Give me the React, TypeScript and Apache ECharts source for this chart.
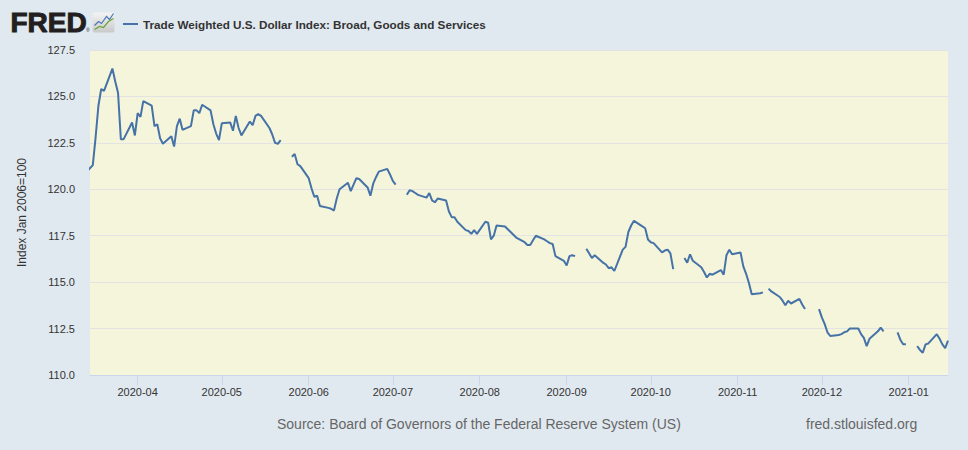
import React, { useEffect, useRef } from "react";
import * as echarts from "echarts";

type Obs = [number, number | null];

const SERIES_NAME = "Trade Weighted U.S. Dollar Index: Broad, Goods and Services";
const Y_NAME = "Index Jan 2006=100";
const SOURCE = "Source: Board of Governors of the Federal Reserve System (US)";
const SITE = "fred.stlouisfed.org";

const MONTH_TICKS = ["2020-04", "2020-05", "2020-06", "2020-07", "2020-08", "2020-09", "2020-10", "2020-11", "2020-12", "2021-01"];
const X_RANGE = ["2020-03-15", "2021-01-15"];

const MAR_2020: Obs[] = [[13, 120.8], [16, 121.3], [17, 122.8], [18, 124.5], [19, 125.4], [20, 125.3], [23, 126.5], [24, 125.8], [25, 125.2], [26, 122.7], [27, 122.7], [30, 123.6], [31, 122.9]];
const APR_2020: Obs[] = [[1, 124.1], [2, 123.9], [3, 124.75], [6, 124.5], [7, 123.4], [8, 123.5], [9, 122.75], [10, 122.45], [13, 122.85], [14, 122.3], [15, 123.4], [16, 123.8], [17, 123.2], [20, 123.4], [21, 124.25], [22, 124.25], [23, 124.1], [24, 124.55], [27, 124.25], [28, 123.5], [29, 123.0], [30, 122.65]];
const MAY_2020: Obs[] = [[1, 123.55], [4, 123.6], [5, 123.15], [6, 123.95], [7, 123.3], [8, 122.9], [11, 123.65], [12, 123.45], [13, 123.95], [14, 124.05], [15, 123.95], [18, 123.3], [19, 122.95], [20, 122.5], [21, 122.45], [22, 122.65], [25, null], [26, 121.75], [27, 121.9], [28, 121.35], [29, 121.25]];
const JUN_2020: Obs[] = [[1, 120.6], [2, 120.05], [3, 119.6], [4, 119.65], [5, 119.1], [8, 119.0], [9, 118.95], [10, 118.85], [11, 119.5], [12, 120.0], [15, 120.35], [16, 119.9], [17, 120.25], [18, 120.6], [19, 120.55], [22, 120.1], [23, 119.65], [24, 120.3], [25, 120.65], [26, 120.95], [29, 121.1], [30, 120.8]];
const JUL_2020: Obs[] = [[1, 120.45], [2, 120.25], [3, null], [6, 119.7], [7, 119.95], [8, 119.9], [9, 119.8], [10, 119.7], [13, 119.55], [14, 119.8], [15, 119.4], [16, 119.3], [17, 119.5], [20, 119.4], [21, 118.8], [22, 118.5], [23, 118.5], [24, 118.25], [27, 117.8], [28, 117.75], [29, 117.6], [30, 117.8], [31, 117.6]];
const AUG_2020: Obs[] = [[3, 118.25], [4, 118.2], [5, 117.3], [6, 117.5], [7, 118.05], [10, 118.0], [11, 117.85], [12, 117.7], [13, 117.55], [14, 117.4], [17, 117.15], [18, 117.0], [19, 117.0], [20, 117.25], [21, 117.5], [24, 117.3], [25, 117.2], [26, 117.1], [27, 117.05], [28, 116.4], [31, 116.15]];
const SEP_2020: Obs[] = [[1, 115.9], [2, 116.4], [3, 116.45], [4, 116.4], [7, null], [8, 116.8], [9, 116.55], [10, 116.3], [11, 116.45], [14, 116.05], [15, 115.95], [16, 115.75], [17, 115.8], [18, 115.6], [21, 116.75], [22, 116.9], [23, 117.7], [24, 118.05], [25, 118.3], [28, 118.0], [29, 117.9], [30, 117.3]];
const OCT_2020: Obs[] = [[1, 117.15], [2, 117.1], [5, 116.6], [6, 116.7], [7, 116.75], [8, 116.55], [9, 115.7], [12, null], [13, 116.3], [14, 116.05], [15, 116.5], [16, 116.15], [19, 115.8], [20, 115.55], [21, 115.25], [22, 115.45], [23, 115.4], [26, 115.65], [27, 115.4], [28, 116.45], [29, 116.75], [30, 116.5]];
const NOV_2020: Obs[] = [[2, 116.6], [3, 115.85], [4, 115.45], [5, 114.95], [6, 114.35], [9, 114.4], [10, 114.45], [11, null], [12, 114.65], [13, 114.5], [16, 114.2], [17, 114.0], [18, 113.75], [19, 114.0], [20, 113.85], [23, 114.1], [24, 113.8], [25, 113.55], [26, null], [27, null], [30, 113.55]];
const DEC_2020: Obs[] = [[1, 113.1], [2, 112.75], [3, 112.3], [4, 112.1], [7, 112.15], [8, 112.2], [9, 112.3], [10, 112.35], [11, 112.5], [14, 112.5], [15, 112.2], [16, 112.0], [17, 111.55], [18, 111.95], [21, 112.35], [22, 112.55], [23, 112.35], [24, null], [25, null], [28, 112.3], [29, 111.9], [30, 111.65], [31, 111.65]];
const JAN_2021: Obs[] = [[1, null], [4, 111.55], [5, 111.35], [6, 111.2], [7, 111.65], [8, 111.7], [11, 112.2], [12, 111.95], [13, 111.65], [14, 111.45], [15, 111.85]];

const MONTHS: [string, Obs[]][] = [
  ["2020-03", MAR_2020], ["2020-04", APR_2020], ["2020-05", MAY_2020], ["2020-06", JUN_2020],
  ["2020-07", JUL_2020], ["2020-08", AUG_2020], ["2020-09", SEP_2020], ["2020-10", OCT_2020],
  ["2020-11", NOV_2020], ["2020-12", DEC_2020], ["2021-01", JAN_2021],
];

const FONT = "'Liberation Sans', Arial, Helvetica, sans-serif";

function ts(s: string) {
  const [y, m, d] = s.split("-").map(Number);
  return Date.UTC(y, m - 1, d || 1);
}

function fmtMonth(v: number) {
  const d = new Date(v);
  return `${d.getUTCFullYear()}-${String(d.getUTCMonth() + 1).padStart(2, "0")}`;
}

export default function App() {
  const ref = useRef<HTMLDivElement>(null);
  useEffect(() => {
    if (!ref.current) return;
    const chart = echarts.init(ref.current, undefined, { renderer: "svg" });
    const data: any[] = [];
    MONTHS.forEach(([ym, obs]) => {
      obs.forEach(([d, v]) => {
        data.push([ts(`${ym}-${d}`), v === null ? "-" : v]);
      });
    });
    const tickVals = MONTH_TICKS.map((m) => ts(m));
    chart.setOption({
      animation: false,
      backgroundColor: "#e1e9f0",
      textStyle: { fontFamily: FONT },
      legend: {
        left: 118,
        top: 13,
        icon: "rect",
        itemWidth: 15,
        itemHeight: 2,
        textStyle: { fontFamily: FONT, fontSize: 11.7, fontWeight: "bold", color: "#333333" },
        data: [SERIES_NAME],
      },
      grid: { left: 90, right: 20, top: 50, bottom: 75, show: true, backgroundColor: "#f5f5dc", borderWidth: 0 },
      xAxis: {
        type: "value",
        min: ts(X_RANGE[0]),
        max: ts(X_RANGE[1]),
        axisLine: { show: true, lineStyle: { color: "#ccd6eb", width: 1 } },
        axisTick: { show: true, length: 10, lineStyle: { color: "#ccd6eb" }, customValues: tickVals },
        splitLine: { show: false },
        axisLabel: {
          customValues: tickVals,
          margin: 11,
          fontSize: 11,
          color: "#333333",
          fontFamily: FONT,
          formatter: (val: number) => fmtMonth(val),
        },
      },
      yAxis: {
        type: "value",
        min: 110,
        max: 127.5,
        interval: 2.5,
        name: Y_NAME,
        nameLocation: "middle",
        nameRotate: 90,
        nameGap: 62,
        nameTextStyle: { fontSize: 12, color: "#333333", fontFamily: FONT },
        axisLine: { show: false },
        axisTick: { show: false },
        splitLine: { show: true, lineStyle: { color: "#e3e3e3", width: 1 } },
        axisLabel: {
          margin: 15,
          fontSize: 11,
          color: "#333333",
          fontFamily: FONT,
          formatter: (v: number) => v.toFixed(1),
        },
      },
      series: [
        {
          name: SERIES_NAME,
          type: "line",
          data,
          showSymbol: false,
          connectNulls: false,
          clip: true,
          color: "#4572a7",
          lineStyle: { color: "#4572a7", width: 2 },
        },
      ],
      graphic: [
        {
          type: "text",
          left: 10,
          top: 8,
          style: {
            text: "FRED",
            fontFamily: FONT,
            fontWeight: 900,
            fontSize: 28,
            fill: "#231f20",
            stroke: "#231f20",
            lineWidth: 1,
          },
        },
        {
          type: "text",
          left: 86,
          top: 27,
          style: { text: "®", fontFamily: FONT, fontSize: 5, fill: "#231f20" },
        },
        {
          type: "group",
          left: 92,
          top: 11,
          children: [
            {
              type: "rect",
              shape: { x: 0, y: 0, width: 22, height: 20, r: 2 },
              style: {
                fill: new echarts.graphic.LinearGradient(0, 0, 0, 1, [
                  { offset: 0, color: "#f4f4f4" },
                  { offset: 1, color: "#c9c9c9" },
                ]),
              },
            },
            {
              type: "polyline",
              shape: { points: [[2, 13], [6, 9], [9, 11], [14, 4], [17, 7], [21, 1]] },
              style: { stroke: "#4a79b5", lineWidth: 1.2, fill: "none" },
            },
            {
              type: "polyline",
              shape: { points: [[2, 17], [7, 14], [11, 15], [16, 9], [21, 6]] },
              style: { stroke: "#6aa33a", lineWidth: 1.2, fill: "none" },
            },
          ],
        },
        {
          type: "text",
          left: 277,
          top: 417,
          style: { text: SOURCE, fontFamily: FONT, fontSize: 14, fill: "#666666" },
        },
        {
          type: "text",
          left: 806,
          top: 417,
          style: { text: SITE, fontFamily: FONT, fontSize: 14, fill: "#666666" },
        },
      ],
    });
    return () => chart.dispose();
  }, []);
  return <div ref={ref} style={{ position: "fixed", left: 0, top: 0, width: 968, height: 450 }} />;
}
